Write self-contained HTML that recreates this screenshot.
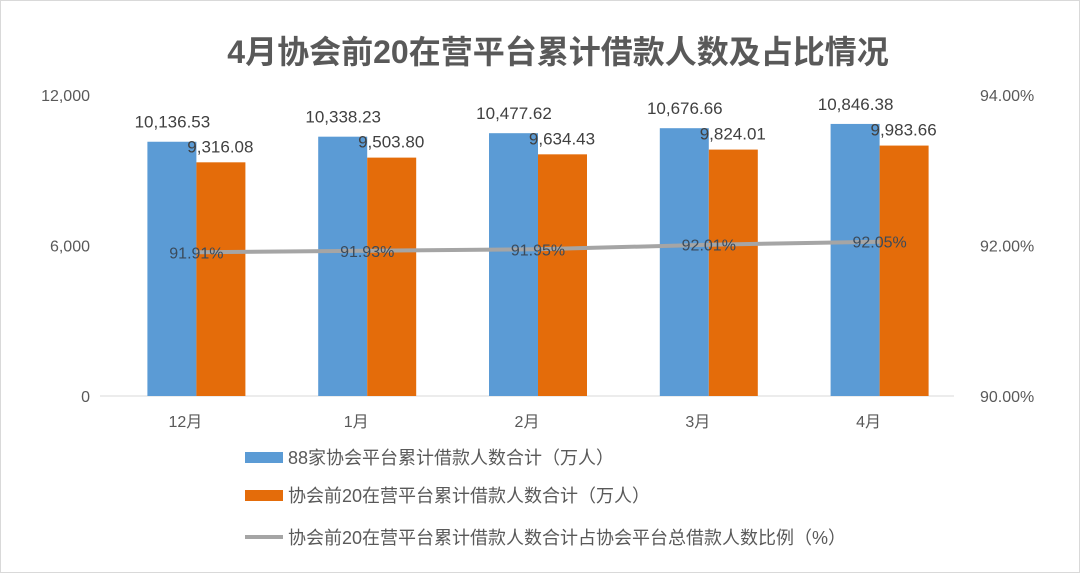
<!DOCTYPE html>
<html><head><meta charset="utf-8"><style>
body{margin:0;background:#fff;}
svg text{font-family:"Liberation Sans","Noto Sans CJK SC",sans-serif;}
</style></head><body>
<svg width="1080" height="573" xmlns="http://www.w3.org/2000/svg">
<rect x="0.5" y="0.5" width="1079" height="572" fill="#fff" stroke="#d9d9d9"/>
<text x="558" y="63" text-anchor="middle" font-size="32" font-weight="bold" fill="#595959">4月协会前20在营平台累计借款人数及占比情况</text>
<g id="plot"></g>
<g>
<rect x="245" y="452" width="38" height="11" fill="#5B9BD5"/>
<text x="288" y="464" font-size="18" fill="#595959">88家协会平台累计借款人数合计（万人）</text>
<rect x="245" y="490" width="38" height="11" fill="#E46C0A"/>
<text x="288" y="502" font-size="18" fill="#595959">协会前20在营平台累计借款人数合计（万人）</text>
<line x1="245" y1="537" x2="283" y2="537" stroke="#A5A5A5" stroke-width="4"/>
<text x="288" y="544" font-size="18" fill="#595959">协会前20在营平台累计借款人数合计占协会平台总借款人数比例（%）</text>
</g>
</svg>
<script>
const categories=["12月","1月","2月","3月","4月"];
const total88=[10136.53,10338.23,10477.62,10676.66,10846.38];
const top20=[9316.08,9503.80,9634.43,9824.01,9983.66];
const ratio=[91.91,91.93,91.95,92.01,92.05];
const leftTicks=[0,6000,12000];
const rightTicks=[90,92,94];
const NS="http://www.w3.org/2000/svg";
const g=document.getElementById('plot');
const x0=100,x1=954,yB=396,yT=95,off=11;
const step=(x1-x0)/categories.length;
const cx=i=>x0+step*(i+0.5);
const yL=v=>yB-(v/12000)*(yB-yT);
const yR=v=>yB-((v-90)/4)*(yB-yT);
function mk(t,a,p){const e=document.createElementNS(NS,t);for(const k in a)e.setAttribute(k,a[k]);(p||g).appendChild(e);return e;}
const fmt=v=>v.toLocaleString('en-US',{minimumFractionDigits:2,maximumFractionDigits:2});
leftTicks.forEach(t=>{const e=mk('text',{x:90,y:yL(t)+6,'text-anchor':'end','font-size':16,fill:'#595959'});e.textContent=t.toLocaleString('en-US');

});
rightTicks.forEach(t=>{const e=mk('text',{x:980,y:yR(t)+6,'font-size':16,fill:'#595959'});e.textContent=t.toFixed(2)+'%';

});
const ax=mk('line',{x1:x0,y1:yB,x2:x1,y2:yB,stroke:'#d9d9d9'});


const bw=49;
categories.forEach((c,i)=>{
 const m=cx(i)+off;
 const b=mk('rect',{x:m-bw,y:yL(total88[i]),width:bw,height:yB-yL(total88[i]),fill:'#5B9BD5'});
 
 
 const o=mk('rect',{x:m,y:yL(top20[i]),width:bw,height:yB-yL(top20[i]),fill:'#E46C0A'});
 
 
 const l1=mk('text',{x:m-24,y:yL(total88[i])-14,'text-anchor':'middle','font-size':17,fill:'#404040'});l1.textContent=fmt(total88[i]);
 
 
 const l2=mk('text',{x:m+24,y:yL(top20[i])-10,'text-anchor':'middle','font-size':17,fill:'#404040'});l2.textContent=fmt(top20[i]);
 
 
 const xl=mk('text',{x:cx(i),y:yB+31,'text-anchor':'middle','font-size':16,fill:'#595959'});xl.textContent=c;
 
 
});
const pl=mk('polyline',{points:ratio.map((v,i)=>(cx(i)+off)+','+yR(v)).join(' '),fill:'none',stroke:'#A5A5A5','stroke-width':4});


ratio.forEach((v,i)=>{const t=mk('text',{x:cx(i)+off,y:yR(v)+6,'text-anchor':'middle','font-size':16,fill:'#3b4a5a'});t.textContent=v.toFixed(2)+'%';

});
</script>
</body></html>
